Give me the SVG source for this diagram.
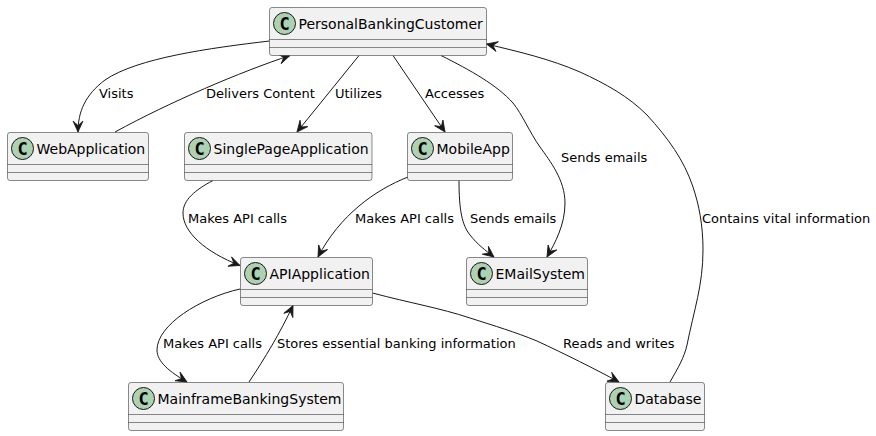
<svg xmlns="http://www.w3.org/2000/svg" width="876" height="436" viewBox="0 0 876 436">
<style>
text{font-family:"DejaVu Sans",sans-serif;fill:#000}
.box{fill:#F1F1F1;stroke:#181818;stroke-width:.5}
.sep{stroke:#181818;stroke-width:.5}
.spot{fill:#ADD1B2;stroke:#181818;stroke-width:1}
.c{font-size:17px;font-weight:bold;text-anchor:middle;font-family:"DejaVu Sans Mono",monospace}
.name{font-size:14px}
.lab{font-size:13px}
.edge{fill:none;stroke:#181818;stroke-width:1;marker-end:url(#a)}
</style>
<defs>
<marker id="a" markerUnits="userSpaceOnUse" markerWidth="16" markerHeight="14" refX="12" refY="6" orient="auto" viewBox="0 0 16 12">
<path d="M1,1L12,6L1,11L5.500,6Z" fill="#181818" stroke="#181818" stroke-width=".8"/>
</marker>
</defs>
<g id="connectors">
<path class="edge" d="M269.5,41C210,48 137,58 105,80C85,95 78,112 78,132"/>
<path class="edge" d="M115,132C170,102 240,72 290,55.5"/>
<path class="edge" d="M359,55.5L297,132"/>
<path class="edge" d="M393,55.5L445,132"/>
<path class="edge" d="M441,55.5C470,70 497,85 513,103C522,114 530,133 540,147C550,161 565,180 565,203C565,225 555,243 547,257"/>
<path class="edge" d="M459,180.500C459,210 462,225 470,235C478,245 485,250 494,257"/>
<path class="edge" d="M213,180.500C195,190 183,200 183,213C183,232 205,252 240,265.500"/>
<path class="edge" d="M408,177C375,190 340,215 318,257"/>
<path class="edge" d="M240,289C200,298 157,325 157,350C157,362 170,372 187,382"/>
<path class="edge" d="M249,382C265,358 280,333 293,305.500"/>
<path class="edge" d="M372.500,293C410,303 440,308 470,318C495,326 515,332 537,341C565,354 595,369 619,382"/>
<path class="edge" d="M670,382C678,368 684,358 687,345C694,310 703,285 703,250C703,225 699,205 693,187C684,160 668,138 647,115C628,96 606,84 580,72C550,59 520,52 486.500,44"/>
</g>
<g id="labels">
<text class="lab" x="99" y="98">Visits</text>
<text class="lab" x="206" y="98">Delivers Content</text>
<text class="lab" x="335" y="98">Utilizes</text>
<text class="lab" x="425" y="98">Accesses</text>
<text class="lab" x="561" y="162">Sends emails</text>
<text class="lab" x="188" y="223">Makes API calls</text>
<text class="lab" x="355" y="223">Makes API calls</text>
<text class="lab" x="470" y="223">Sends emails</text>
<text class="lab" x="702" y="223">Contains vital information</text>
<text class="lab" x="163" y="348">Makes API calls</text>
<text class="lab" x="277" y="348">Stores essential banking information</text>
<text class="lab" x="563" y="348">Reads and writes</text>
</g>
<g id="PersonalBankingCustomer"><rect class="box" x="269.500" y="7.500" width="217" height="48" rx="2.500"/><line class="sep" x1="269.500" x2="486.500" y1="39.500" y2="39.500"/><line class="sep" x1="269.500" x2="486.500" y1="47.500" y2="47.500"/><circle class="spot" cx="284.500" cy="23.500" r="11"/><text class="c" x="284.500" y="29.500">C</text><text class="name" x="298.500" y="29">PersonalBankingCustomer</text></g>
<g id="WebApplication"><rect class="box" x="7.500" y="132.500" width="141" height="48" rx="2.500"/><line class="sep" x1="7.500" x2="148.500" y1="164.500" y2="164.500"/><line class="sep" x1="7.500" x2="148.500" y1="172.500" y2="172.500"/><circle class="spot" cx="22.500" cy="148.500" r="11"/><text class="c" x="22.500" y="154.500">C</text><text class="name" x="36.500" y="154">WebApplication</text></g>
<g id="SinglePageApplication"><rect class="box" x="184.500" y="132.500" width="187.500" height="48" rx="2.500"/><line class="sep" x1="184.500" x2="372" y1="164.500" y2="164.500"/><line class="sep" x1="184.500" x2="372" y1="172.500" y2="172.500"/><circle class="spot" cx="199.500" cy="148.500" r="11"/><text class="c" x="199.500" y="154.500">C</text><text class="name" x="213.500" y="154">SinglePageApplication</text></g>
<g id="MobileApp"><rect class="box" x="407.500" y="132.500" width="105" height="48" rx="2.500"/><line class="sep" x1="407.500" x2="512.500" y1="164.500" y2="164.500"/><line class="sep" x1="407.500" x2="512.500" y1="172.500" y2="172.500"/><circle class="spot" cx="422.500" cy="148.500" r="11"/><text class="c" x="422.500" y="154.500">C</text><text class="name" x="436.500" y="154">MobileApp</text></g>
<g id="APIApplication"><rect class="box" x="240.500" y="257.500" width="132" height="48" rx="2.500"/><line class="sep" x1="240.500" x2="372.500" y1="289.500" y2="289.500"/><line class="sep" x1="240.500" x2="372.500" y1="297.500" y2="297.500"/><circle class="spot" cx="255.500" cy="273.500" r="11"/><text class="c" x="255.500" y="279.500">C</text><text class="name" x="269.500" y="279">APIApplication</text></g>
<g id="EMailSystem"><rect class="box" x="466.500" y="257.500" width="121" height="48" rx="2.500"/><line class="sep" x1="466.500" x2="587.500" y1="289.500" y2="289.500"/><line class="sep" x1="466.500" x2="587.500" y1="297.500" y2="297.500"/><circle class="spot" cx="481.500" cy="273.500" r="11"/><text class="c" x="481.500" y="279.500">C</text><text class="name" x="495.500" y="279">EMailSystem</text></g>
<g id="MainframeBankingSystem"><rect class="box" x="128.500" y="382.500" width="215" height="48" rx="2.500"/><line class="sep" x1="128.500" x2="343.500" y1="414.500" y2="414.500"/><line class="sep" x1="128.500" x2="343.500" y1="422.500" y2="422.500"/><circle class="spot" cx="143.500" cy="398.500" r="11"/><text class="c" x="143.500" y="404.500">C</text><text class="name" x="157.500" y="404">MainframeBankingSystem</text></g>
<g id="Database"><rect class="box" x="605.500" y="382.500" width="99" height="48" rx="2.500"/><line class="sep" x1="605.500" x2="704.500" y1="414.500" y2="414.500"/><line class="sep" x1="605.500" x2="704.500" y1="422.500" y2="422.500"/><circle class="spot" cx="620.500" cy="398.500" r="11"/><text class="c" x="620.500" y="404.500">C</text><text class="name" x="634.500" y="404">Database</text></g>
</svg>
